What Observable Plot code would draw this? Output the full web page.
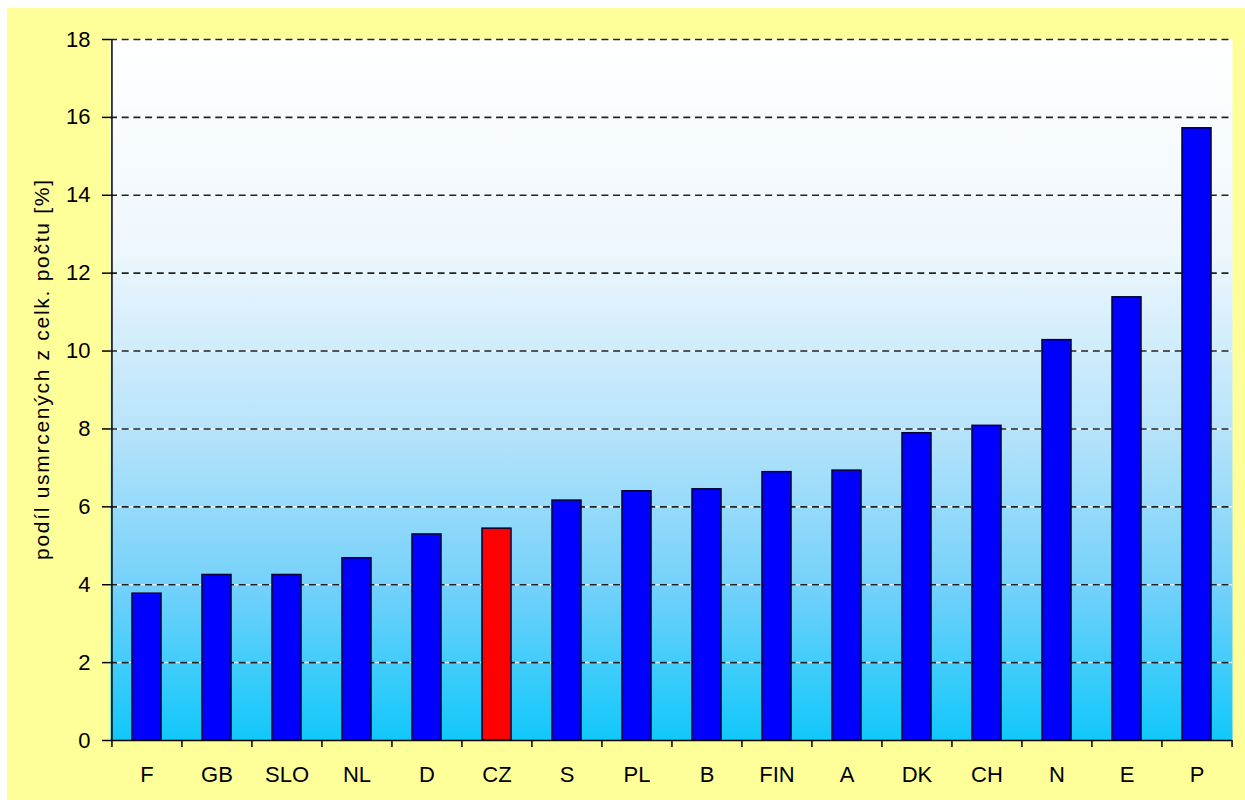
<!DOCTYPE html>
<html><head><meta charset="utf-8">
<script src="https://cdn.jsdelivr.net/npm/d3@7"></script>
<script src="https://cdn.jsdelivr.net/npm/@observablehq/plot@0.6"></script>
<style>
html,body{margin:0;padding:0;background:#fff;}
#chart{position:absolute;left:7px;top:8px;width:1238px;height:792px;background:#FFFF99;}
</style></head><body><div id="chart"></div>
<script>
const countries = ["F","GB","SLO","NL","D","CZ","S","PL","B","FIN","A","DK","CH","N","E","P"];
const values = [3.77,4.25,4.25,4.68,5.29,5.44,6.16,6.40,6.45,6.89,6.93,7.89,8.08,10.28,11.38,15.72];
const highlight = "CZ";
const yTicks = [0,2,4,6,8,10,12,14,16,18];
const yLabel = "podíl usmrcených z celk. počtu [%]";

const data = countries.map((c, i) => ({country: c, value: values[i]}));

const W = 1238, H = 792, mL = 103, mR = 13, mT = 31, mB = 60;
const step = (W - mL - mR) / countries.length;

const plot = Plot.plot({
  width: W, height: H,
  marginLeft: mL, marginRight: mR, marginTop: mT, marginBottom: mB,
  style: {fontFamily: "'Liberation Sans', Arial, sans-serif", fontSize: "22px", color: "#000", background: "transparent"},
  x: {domain: countries, paddingInner: 0.59, paddingOuter: 0.295, label: null},
  y: {domain: [0, 18], label: null},
  color: {type: "identity"},
  marks: [
    Plot.frame({fill: "url(#plotBg)", stroke: "none"}),
    Plot.ruleY(yTicks.filter(d => d > 0), {stroke: "#ffffff", strokeWidth: 1.5, strokeOpacity: 0.7}),
    Plot.ruleY(yTicks.filter(d => d > 0), {stroke: "#222", strokeWidth: 1.6, strokeDasharray: "7,4.7"}),
    Plot.barY(data, {x: "country", y: "value", fill: d => d.country === highlight ? "#FF0000" : "#0000FF", stroke: "#000033", strokeWidth: 1.5}),
    Plot.ruleY([0], {stroke: "#000", strokeWidth: 1.5}),
    Plot.ruleX([countries[0]], {x: d => d, dx: -step / 2, y1: 0, y2: 18, stroke: "#000", strokeWidth: 1.5}),
    Plot.ruleX(countries, {x: d => d, dx: -step / 2, y1: 0, y2: 0, insetTop: 7, stroke: "#000", strokeWidth: 1.5}),
    Plot.ruleX([countries[countries.length - 1]], {x: d => d, dx: step / 2, y1: 0, y2: 0, insetTop: 7, stroke: "#000", strokeWidth: 1.5}),
    Plot.axisY({ticks: yTicks, tickSize: 8, tickPadding: 12, label: null, strokeWidth: 1.5}),
    Plot.axisX({tickSize: 0, tickPadding: 26, label: null}),
    Plot.text([yLabel], {frameAnchor: "left", rotate: -90, dx: -68.5, dy: -20, fontSize: 21, textAnchor: "middle", fill: "#000"})
  ]
});

const svg = d3.select(plot);
const defs = svg.insert("defs", ":first-child");
const grad = defs.append("linearGradient").attr("id", "plotBg")
  .attr("x1", 0).attr("y1", 0).attr("x2", 0).attr("y2", 1);
[[0, "#FFFFFF"], [0.3, "#EEF7FD"], [0.56, "#B6E3FA"], [0.78, "#74D1FA"], [1, "#10C8FA"]]
  .forEach(([o, c]) => grad.append("stop").attr("offset", o).attr("stop-color", c));

svg.selectAll("text").filter(function () { return this.textContent === yLabel; })
  .attr("textLength", 380).attr("lengthAdjust", "spacing");

document.getElementById("chart").appendChild(plot);
</script></body></html>
